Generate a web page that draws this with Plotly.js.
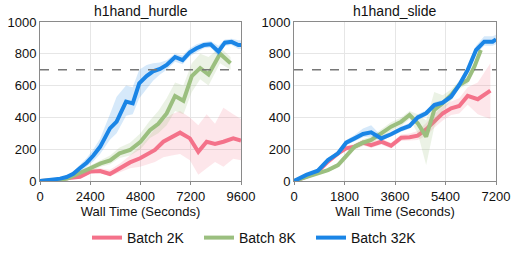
<!DOCTYPE html>
<html><head><meta charset="utf-8">
<script src="https://cdn.plot.ly/plotly-3.0.1.min.js"></script>
<style>html,body{margin:0;padding:0;background:#fff}</style>
</head><body><div id="chart" style="width:518px;height:259px"></div>
<script>
// ---------- data: h1hand_hurdle ----------
const hurdleRedX  = [0,800,1270,1910,2390,2870,3340,3820,4300,4780,5250,5490,5890,6290,6690,7160,7560,7960,8360,8760,9230,9600];
const hurdleRedY  = [0,5,17,27,59,63,44,80,117,143,174,195,247,279,304,268,184,247,233,247,268,254];
const hurdleRedHi = [0,10,25,40,75,80,70,110,160,220,290,330,380,420,440,400,350,420,360,460,420,390];
const hurdleRedLo = [0,0,10,15,45,50,30,55,80,90,110,120,150,160,170,130,40,80,120,90,140,130];

const hurdleGreenX  = [0,800,1300,1900,2400,2900,3350,3800,4300,4800,5250,5650,6050,6450,6850,7250,7650,8050,8600,9100];
const hurdleGreenY  = [0,5,15,48,80,111,130,174,195,247,320,360,425,535,505,660,710,670,800,740];
const hurdleGreenHi = [0,10,25,65,100,135,160,210,240,300,380,440,520,620,600,740,800,780,840,780];
const hurdleGreenLo = [0,0,8,35,60,90,105,145,160,200,270,300,350,440,420,560,640,600,740,700];

const hurdleBlueX  = [0,480,960,1270,1590,1900,2230,2550,2870,3340,3660,4110,4430,4740,5090,5400,5730,6050,6450,6810,7160,7480,7830,8150,8520,8830,9150,9470,9600];
const hurdleBlueY  = [0,5,15,25,45,80,115,160,215,331,373,499,488,614,660,690,705,730,780,760,810,835,855,860,815,870,875,855,855];
const hurdleBlueHi = [0,10,22,35,60,100,145,200,265,420,530,600,590,700,730,740,745,760,800,790,835,860,875,880,850,890,895,885,885];
const hurdleBlueLo = [0,0,8,15,32,62,90,125,170,260,300,410,420,520,580,630,670,700,750,735,785,810,835,840,785,850,855,830,830];

// ---------- data: h1hand_slide ----------
const slideRedX  = [0,440,850,1210,1570,1860,2160,2460,2750,3110,3460,3820,4120,4410,4710,5000,5300,5600,5890,6190,6550,7000];
const slideRedY  = [0,27,59,122,174,205,216,241,226,247,222,272,275,285,325,377,425,457,472,535,514,568];
const slideRedHi = [0,35,70,135,190,222,232,258,245,265,240,292,298,315,365,420,470,500,520,590,620,740];
const slideRedLo = [0,18,48,108,158,190,200,225,208,230,205,252,255,258,285,335,380,415,425,480,420,390];

const slideGreenX  = [0,850,1210,1570,1860,2160,2460,2750,3110,3460,3820,4120,4410,4710,5000,5300,5600,5890,6190,6430,6660];
const slideGreenY  = [0,48,69,100,153,216,241,258,300,342,373,415,363,279,447,489,541,604,635,719,824];
const slideGreenHi = [0,58,80,115,170,235,262,280,325,370,400,440,420,380,560,540,575,630,660,740,840];
const slideGreenLo = [0,38,58,85,136,197,220,236,275,314,346,390,300,100,340,440,505,578,610,698,808];

const slideBlueX  = [0,440,850,1210,1570,1860,2160,2460,2750,3110,3460,3820,4120,4410,4710,5000,5300,5600,5890,6190,6490,6780,7080,7200];
const slideBlueY  = [0,38,65,132,174,241,268,296,306,268,294,327,346,400,426,478,493,530,604,698,824,876,876,891];
const slideBlueHi = [0,46,75,145,190,258,290,330,350,285,310,345,365,420,445,495,510,548,622,718,850,910,910,920];
const slideBlueLo = [0,30,56,120,160,226,250,275,280,252,278,310,328,382,408,460,476,512,586,678,800,850,850,860];

const thresholdY = 700;
const legendNames = ['Batch 2K','Batch 8K','Batch 32K'];
const colors = ['#f4728a','#9bbf7f','#1a85e6'];
const bandColors = ['rgba(244,114,138,0.18)','rgba(155,191,127,0.2)','rgba(26,133,230,0.18)'];

const traces = [];
function addSeries(x, y, hi, lo, idx, xa, ya, showLegend){
  traces.push({x: x.concat(x.slice().reverse()), y: hi.concat(lo.slice().reverse()),
    type:'scatter', mode:'lines', fill:'toself', fillcolor: bandColors[idx],
    line:{width:0}, hoverinfo:'skip', showlegend:false, xaxis:xa, yaxis:ya});
  traces.push({x:x, y:y, type:'scatter', mode:'lines', name: legendNames[idx],
    line:{color: colors[idx], width:4}, showlegend: showLegend, legendgroup: legendNames[idx],
    xaxis:xa, yaxis:ya});
}
addSeries(hurdleRedX, hurdleRedY, hurdleRedHi, hurdleRedLo, 0, 'x', 'y', true);
addSeries(hurdleGreenX, hurdleGreenY, hurdleGreenHi, hurdleGreenLo, 1, 'x', 'y', true);
addSeries(hurdleBlueX, hurdleBlueY, hurdleBlueHi, hurdleBlueLo, 2, 'x', 'y', true);
addSeries(slideRedX, slideRedY, slideRedHi, slideRedLo, 0, 'x2', 'y2', false);
addSeries(slideGreenX, slideGreenY, slideGreenHi, slideGreenLo, 1, 'x2', 'y2', false);
addSeries(slideBlueX, slideBlueY, slideBlueHi, slideBlueLo, 2, 'x2', 'y2', false);

const W = 518, H = 259;
const font = {family:'"Liberation Sans", Arial, sans-serif', color:'#111'};
function xAx(dom, range, ticks){
  return {domain: dom, range: range, tickvals: ticks, ticktext: ticks.map(String),
    showgrid:true, gridcolor:'#e6e6e6', gridwidth:1, zeroline:false,
    showline:true, linecolor:'#8a8a8a', linewidth:1, mirror:true,
    ticks:'outside', ticklen:3, tickcolor:'#8a8a8a',
    tickfont:{size:13, color:'#111'}, automargin:false,
    title:{text:'Wall Time (Seconds)', font:{size:13, color:'#111'}, standoff:2}};
}
function yAx(anchor){
  return {domain:[1-181/H, 1-22/H], range:[0,1000], tickvals:[0,200,400,600,800,1000],
    showgrid:true, gridcolor:'#e6e6e6', gridwidth:1, zeroline:false,
    showline:true, linecolor:'#8a8a8a', linewidth:1, mirror:true,
    ticks:'', tickfont:{size:13, color:'#111'}, automargin:false, anchor: anchor};
}
const layout = {
  width: W, height: H, margin:{l:0,r:0,t:0,b:0},
  paper_bgcolor:'#fff', plot_bgcolor:'#fff', font: font,
  xaxis: Object.assign(xAx([40/W, 241/W], [0,9600], [0,2400,4800,7200,9600]), {anchor:'y'}),
  yaxis: yAx('x'),
  xaxis2: Object.assign(xAx([294/W, 496/W], [0,7200], [0,1800,3600,5400,7200]), {anchor:'y2'}),
  yaxis2: yAx('x2'),
  shapes: [
    {type:'line', xref:'x domain', yref:'y', x0:0, x1:1, y0:thresholdY, y1:thresholdY, line:{color:'#777', width:1.5, dash:'dash'}},
    {type:'line', xref:'x2 domain', yref:'y2', x0:0, x1:1, y0:thresholdY, y1:thresholdY, line:{color:'#777', width:1.5, dash:'dash'}}
  ],
  annotations: [
    {text:'h1hand_hurdle', xref:'paper', yref:'paper', x:(40+241)/2/W, y:1-11/H, xanchor:'center', yanchor:'middle', showarrow:false, font:{size:14, color:'#111'}},
    {text:'h1hand_slide', xref:'paper', yref:'paper', x:(294+496)/2/W, y:1-11/H, xanchor:'center', yanchor:'middle', showarrow:false, font:{size:14, color:'#111'}}
  ],
  legend: {orientation:'h', x:0.5-4/W, xanchor:'center', y:1-238/H, yanchor:'middle',
    font:{size:14, color:'#111'}, entrywidth:67, entrywidthmode:'pixels', bgcolor:'rgba(0,0,0,0)'},
  showlegend: true
};
Plotly.newPlot('chart', traces, layout, {staticPlot:true, displayModeBar:false});
</script></body></html>
